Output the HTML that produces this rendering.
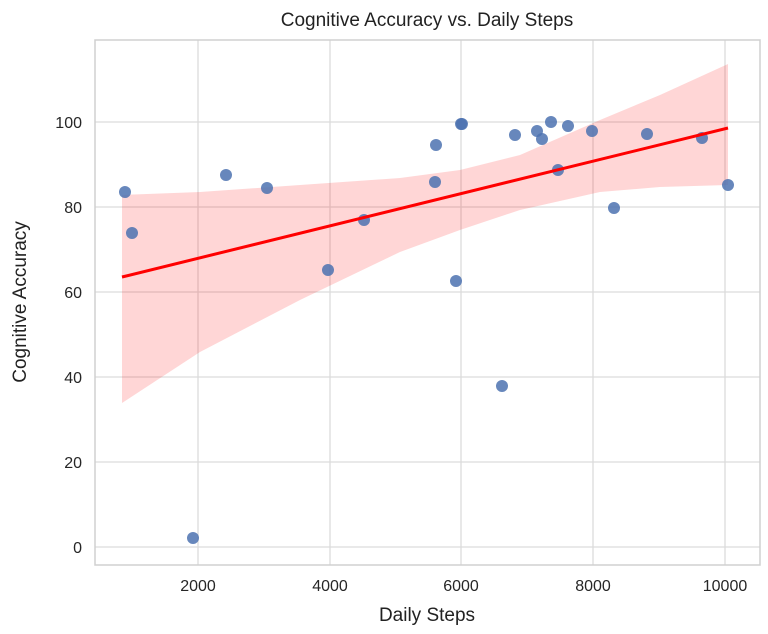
<!DOCTYPE html>
<html><head><style>body{margin:0;background:#fff;}svg{display:block;font-family:"Liberation Sans","DejaVu Sans",sans-serif;}</style></head>
<body>
<svg width="768" height="634" viewBox="0 0 768 634" xmlns="http://www.w3.org/2000/svg">
<rect x="0" y="0" width="768" height="634" fill="#fff"/>
<g stroke="#dcdcdc" stroke-width="1.3">
<line x1="198" y1="40" x2="198" y2="565"/><line x1="330" y1="40" x2="330" y2="565"/><line x1="461" y1="40" x2="461" y2="565"/><line x1="593" y1="40" x2="593" y2="565"/><line x1="725" y1="40" x2="725" y2="565"/>
<line x1="95" y1="547" x2="760" y2="547"/><line x1="95" y1="462" x2="760" y2="462"/><line x1="95" y1="377" x2="760" y2="377"/><line x1="95" y1="292" x2="760" y2="292"/><line x1="95" y1="207" x2="760" y2="207"/><line x1="95" y1="122" x2="760" y2="122"/>
</g>
<rect x="95" y="40" width="665" height="525" fill="none" stroke="#d0d0d0" stroke-width="1.5"/>
<path d="M122,195 L200,192 L300,185 L400,178 L460,170 L520,155 L600,120 L660,95 L728,64 L728,185 L660,187 L600,192 L520,210 L460,230 L400,252 L300,300 L200,352 L122,403 Z" fill="#ff0000" fill-opacity="0.16"/>
<g fill="#4c72b0" fill-opacity="0.85">
<circle cx="125" cy="192" r="6"/><circle cx="132" cy="233" r="6"/><circle cx="193" cy="538" r="6"/><circle cx="226" cy="175" r="6"/><circle cx="267" cy="188" r="6"/><circle cx="328" cy="270" r="6"/><circle cx="364" cy="220" r="6"/><circle cx="436" cy="145" r="6"/><circle cx="435" cy="182" r="6"/><circle cx="456" cy="281" r="6"/><circle cx="462" cy="124" r="6"/><circle cx="461" cy="124" r="6"/><circle cx="502" cy="386" r="6"/><circle cx="515" cy="135" r="6"/><circle cx="537" cy="131" r="6"/><circle cx="542" cy="139" r="6"/><circle cx="551" cy="122" r="6"/><circle cx="558" cy="170" r="6"/><circle cx="568" cy="126" r="6"/><circle cx="592" cy="131" r="6"/><circle cx="614" cy="208" r="6"/><circle cx="647" cy="134" r="6"/><circle cx="702" cy="138" r="6"/><circle cx="728" cy="185" r="6"/>
</g>
<line x1="122" y1="277" x2="728" y2="128" stroke="#ff0000" stroke-width="3"/>
<g fill="#262626" font-size="16" text-anchor="middle">
<text x="198" y="591">2000</text><text x="330" y="591">4000</text><text x="461" y="591">6000</text><text x="593" y="591">8000</text><text x="725" y="591">10000</text>
</g>
<g fill="#262626" font-size="16" text-anchor="end">
<text x="82" y="553">0</text><text x="82" y="468">20</text><text x="82" y="383">40</text><text x="82" y="298">60</text><text x="82" y="213">80</text><text x="82" y="128">100</text>
</g>
<text x="427" y="621" font-size="19" fill="#222" text-anchor="middle">Daily Steps</text>
<text transform="translate(26,302) rotate(-90)" font-size="19" fill="#222" text-anchor="middle">Cognitive Accuracy</text>
<text x="427" y="26" font-size="19" fill="#222" text-anchor="middle">Cognitive Accuracy vs. Daily Steps</text>
</svg>
</body></html>
